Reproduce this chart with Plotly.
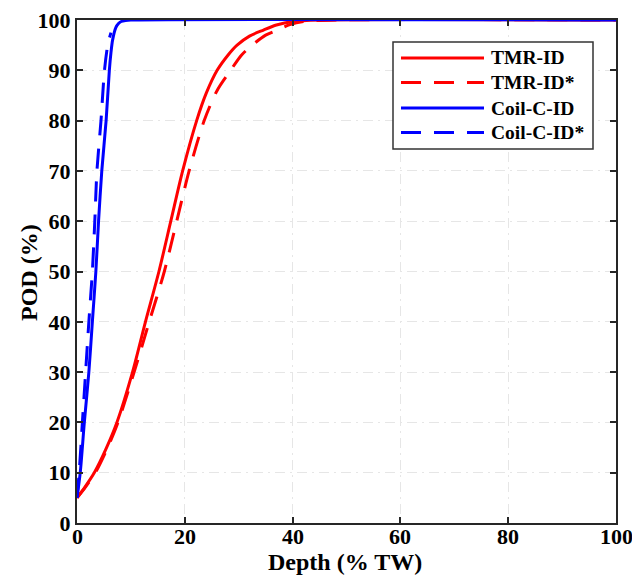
import plotly.graph_objects as go

# ---- data ----
tmr_x = [0, 1.5, 3.2, 5.4, 7.4, 10.3, 12.7, 15.2, 17.4, 19.6, 22.2, 24.0, 26.0, 28.0, 29.7, 32.0, 34.6, 37.0, 40.0, 45.0, 100]
tmr_y = [5, 7.2, 10, 14.8, 20, 30, 40, 50, 60, 70, 80, 85.5, 90, 93.0, 95, 96.8, 98, 99.0, 99.7, 100, 100]

tmr2_x = [0, 1.6, 3.4, 5.6, 7.6, 10.6, 13.4, 16.2, 18.5, 20.8, 23.6, 26.0, 28.5, 30.5, 32.5, 35.0, 37.2, 39.5, 42.0, 48.0, 100]
tmr2_y = [5, 7.2, 10, 14.8, 20, 30, 40, 50, 60, 70, 80, 86.0, 90, 93.0, 95, 97.0, 98, 99.1, 99.7, 100, 100]

coil_x = [0, 0.6, 1.36, 2.2, 2.85, 3.5, 4.0, 4.6, 5.4, 6.0, 6.3, 6.6, 7.2, 7.7, 8.2, 9.0, 10.0, 100]
coil_y = [5, 10, 20, 30, 40, 50, 60, 70, 80, 90, 93.5, 96, 98.5, 99.3, 99.7, 99.9, 100, 100]

coil2_x = [0, 0.4, 1.0, 1.6, 2.2, 2.85, 3.3, 3.7, 4.45, 5.1, 5.7, 6.3]
coil2_y = [5, 10, 20, 30, 40, 50, 60, 70, 80, 90, 95, 97.5]

series_names = ["TMR-ID", "TMR-ID*", "Coil-C-ID", "Coil-C-ID*"]
series_colors = ["#ff0000", "#ff0000", "#0000ff", "#0000ff"]
series_dash = ["solid", "20px,13px", "solid", "20px,13px"]

x_ticks = [0, 20, 40, 60, 80, 100]
y_ticks = [0, 10, 20, 30, 40, 50, 60, 70, 80, 90, 100]

x_title = "Depth (% TW)"
y_title = "POD (%)"

FONT = "Liberation Serif"

fig = go.Figure()
data = [(tmr_x, tmr_y), (tmr2_x, tmr2_y), (coil_x, coil_y), (coil2_x, coil2_y)]
for (xs, ys), name, col, dash in zip(data, series_names, series_colors, series_dash):
    fig.add_trace(go.Scatter(
        x=xs, y=ys, mode="lines", name=name, showlegend=False,
        line=dict(color=col, width=3, dash=dash, shape="spline", smoothing=0.8),
    ))

W, H = 632, 584
L, R, T, B = 77, 16, 20, 61
pw, ph = W - L - R, H - T - B

def px(xp):
    return (xp - L) / pw

def py(yp):
    return (H - B - yp) / ph

# manual legend (long line samples as in reference)
shapes = [dict(type="rect", xref="paper", yref="paper",
               x0=px(393), x1=px(593), y0=py(149), y1=py(42),
               line=dict(color="#333333", width=1.5), fillcolor="white", layer="above")]
annotations = []
rows = [58, 82.5, 108, 132.5]
for name, col, dash, ry in zip(series_names, series_colors, series_dash, rows):
    shapes.append(dict(type="line", xref="paper", yref="paper",
                       x0=px(401), x1=px(484), y0=py(ry), y1=py(ry),
                       line=dict(color=col, width=3, dash=dash), layer="above"))
    annotations.append(dict(xref="paper", yref="paper", x=px(489), y=py(ry),
                            text="<b>%s</b>" % name, showarrow=False,
                            xanchor="left", yanchor="middle",
                            font=dict(family=FONT, size=19.5, color="black")))

# x tick labels (placed via the x axis scale)
for v in x_ticks:
    annotations.append(dict(xref="x", yref="paper", x=v, y=py(536),
                            text="<b>%d</b>" % v, showarrow=False,
                            xanchor="center", yanchor="middle",
                            font=dict(family=FONT, size=22, color="black")))

# axis titles
annotations.append(dict(xref="paper", yref="paper", x=px(345), y=py(562),
                        text="<b>%s</b>" % x_title, showarrow=False,
                        xanchor="center", yanchor="middle",
                        font=dict(family=FONT, size=24, color="black")))
annotations.append(dict(xref="paper", yref="paper", x=px(29), y=py(273),
                        text="<b>%s</b>" % y_title, showarrow=False, textangle=-90,
                        xanchor="center", yanchor="middle",
                        font=dict(family=FONT, size=24, color="black")))

axis_common = dict(
    showline=True, linecolor="#262626", linewidth=2, mirror="ticks",
    ticks="inside", ticklen=6, tickwidth=2, tickcolor="#262626",
    showgrid=True, gridcolor="#e6e6e6", gridwidth=1, griddash="10px,5px,2px,5px",
    zeroline=False, automargin=False, ticklabeloverflow="allow",
    tickfont=dict(family=FONT, size=22, color="black"),
)

fig.update_layout(
    width=W, height=H,
    margin=dict(l=L, r=R, t=T, b=B, autoexpand=False),
    paper_bgcolor="white", plot_bgcolor="white",
    shapes=shapes, annotations=annotations,
    xaxis=dict(range=[0, 100], tickvals=x_ticks, showticklabels=False,
               **axis_common),
    yaxis=dict(range=[0, 100], tickvals=y_ticks,
               ticktext=["<b>%d</b>" % v for v in y_ticks],
               **axis_common),
)

fig.write_html("out.html")
